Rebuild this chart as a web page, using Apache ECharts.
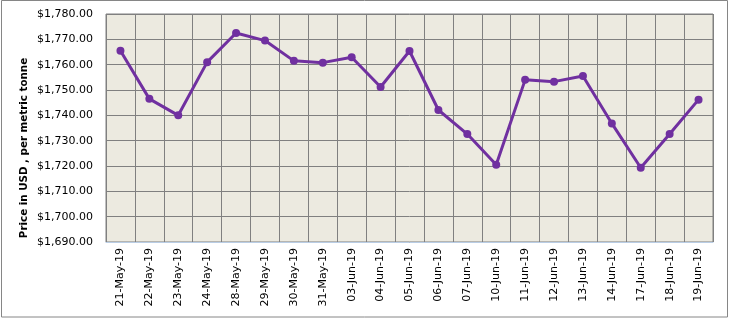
<!DOCTYPE html>
<html>
<head>
<meta charset="UTF-8">
<script src="https://cdn.jsdelivr.net/npm/echarts@6/dist/echarts.min.js"></script>
</head>
<body style="margin:0;">
<div id="main" style="width:729px;height:319px;"></div>
<script>
var dates = ['21-May-19', '22-May-19', '23-May-19', '24-May-19', '28-May-19', '29-May-19', '30-May-19',
    '31-May-19', '03-Jun-19', '04-Jun-19', '05-Jun-19', '06-Jun-19', '07-Jun-19', '10-Jun-19',
    '11-Jun-19', '12-Jun-19', '13-Jun-19', '14-Jun-19', '17-Jun-19', '18-Jun-19', '19-Jun-19'];
var prices = [1765.5, 1746.5, 1740, 1761, 1772.5, 1769.5, 1761.5, 1760.8, 1762.9, 1751.2, 1765.4,
    1742.1, 1732.6, 1720.5, 1754, 1753.3, 1755.5, 1736.8, 1719.3, 1732.6, 1746.2];
var yName = 'Price in USD , per metric tonne';

var myChart = echarts.init(document.getElementById('main'));
var font = 'DejaVu Sans';
var option = {
    animation: false,
    backgroundColor: '#fff',
    graphic: [{
        type: 'rect',
        shape: {x: 1.5, y: 0.5, width: 726, height: 316.5},
        style: {fill: 'none', stroke: '#868686', lineWidth: 1}
    }, {
        // axis title, placed like the original (centred lower than the plot)
        type: 'text',
        x: 24, y: 148,
        rotation: Math.PI / 2,
        style: {
            text: yName,
            fill: '#000',
            font: 'bold 10.3px "DejaVu Sans"',
            align: 'center',
            verticalAlign: 'middle'
        }
    }],
    grid: {
        left: 106, right: 16, top: 14, bottom: 77,
        show: true,
        backgroundColor: '#ECEAE0',
        borderColor: '#808080',
        borderWidth: 1
    },
    xAxis: {
        type: 'category',
        data: dates,
        axisTick: {show: false},
        axisLine: {lineStyle: {color: '#B9CDE5', width: 1}},
        splitLine: {show: true, interval: 0, lineStyle: {color: '#808080', width: 1}},
        axisLabel: {
            interval: 0, rotate: 90, margin: 6,
            color: '#000', fontFamily: font, fontSize: 11
        }
    },
    yAxis: {
        type: 'value',
        min: 1690, max: 1780, interval: 10,
        axisLine: {show: false},
        axisTick: {show: false},
        splitLine: {lineStyle: {color: '#808080', width: 1}},
        axisLabel: {
            margin: 13,
            color: '#000', fontFamily: font, fontSize: 11,
            formatter: function (v) {
                return '$' + v.toLocaleString('en-US', {minimumFractionDigits: 2, maximumFractionDigits: 2});
            }
        }
    },
    series: [{
        type: 'line',
        data: prices,
        symbol: 'circle',
        symbolSize: 8,
        lineStyle: {color: '#7030A0', width: 3},
        itemStyle: {color: '#7030A0'}
    }]
};
myChart.setOption(option);
</script>
</body>
</html>
